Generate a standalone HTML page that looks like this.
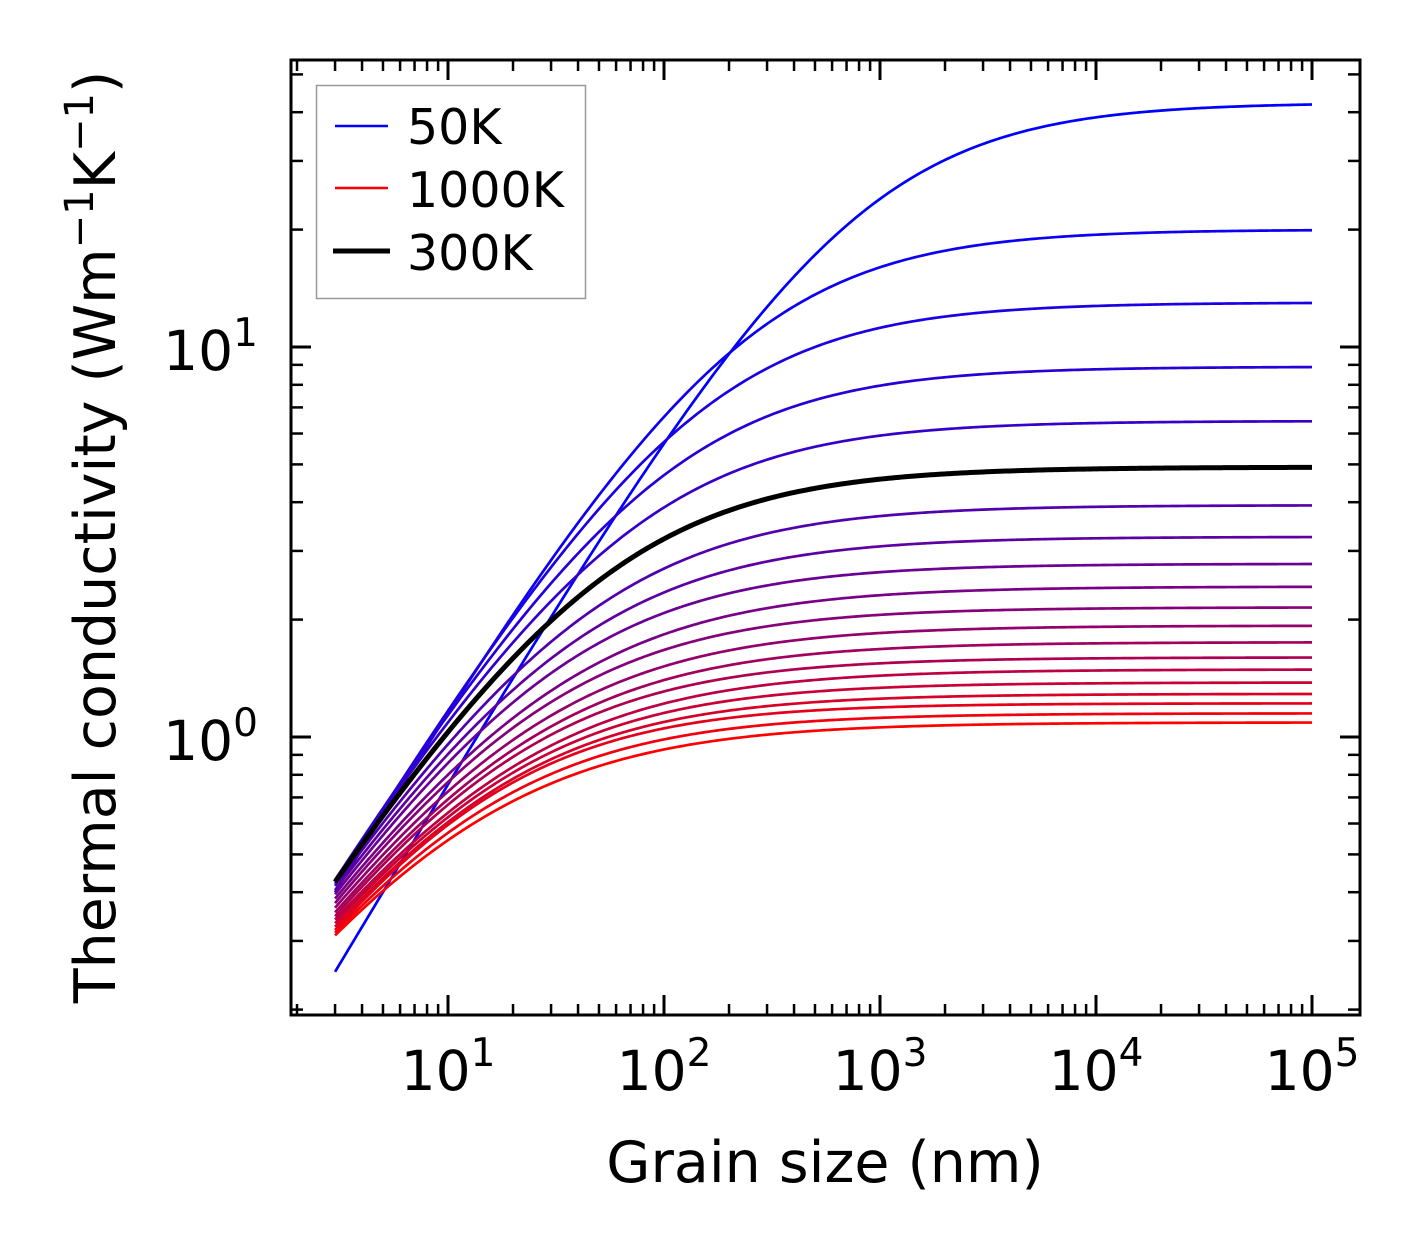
<!DOCTYPE html>
<html><head><meta charset="utf-8">
<style>
html,body{margin:0;padding:0;background:#fff;}
svg{display:block;}
text{font-family:"DejaVu Sans","Liberation Sans",sans-serif;fill:#000;}
</style></head>
<body>
<svg id="chart" width="1421" height="1254" viewBox="0 0 1421 1254" xmlns="http://www.w3.org/2000/svg">
<g id="curves"></g>
<g id="axes"></g>
<text x="825" y="1182" font-size="57" text-anchor="middle">Grain size (nm)</text>
<text transform="translate(115,537) rotate(-90)" font-size="57" text-anchor="middle">Thermal conductivity (Wm<tspan dy="-22" font-size="40">−1</tspan><tspan dy="22">K</tspan><tspan dy="-22" font-size="40">−1</tspan><tspan dy="22">)</tspan></text>
<g>
<rect x="316.5" y="85.5" width="269" height="213" fill="#fff" stroke="#999" stroke-width="1.5"/>
<line x1="335" y1="126" x2="388" y2="126" stroke="#0000ff" stroke-width="2.6"/>
<text x="407" y="144" font-size="49">50K</text>
<line x1="335" y1="188" x2="388" y2="188" stroke="#ff0000" stroke-width="2.6"/>
<text x="407" y="207" font-size="49">1000K</text>
<line x1="333" y1="251" x2="390" y2="251" stroke="#000" stroke-width="5"/>
<text x="407" y="270" font-size="49">300K</text>
</g>
</svg>
<script>
// Data
const temperatures = [50,100,150,200,250,300,350,400,450,500,550,600,650,700,750,800,850,900,950,1000];
// bulk conductivity (value at 1e5 nm)
const kBulk = [42.3,20.0,13.0,8.9,6.46,4.92,3.93,3.26,2.78,2.43,2.15,1.93,1.75,1.60,1.49,1.38,1.29,1.22,1.15,1.09];
// conductivity at 3 nm grain size
const kAt3 = [0.25,0.40,0.42,0.43,0.43,0.425,0.415,0.405,0.395,0.385,0.375,0.365,0.355,0.347,0.34,0.333,0.326,0.32,0.315,0.31];
// conductivity at ~203 nm grain size
const kAt203 = [9.7,9.7,7.76,6.01,4.75,3.82,3.14,2.68,2.34,2.05,1.85,1.67,1.53,1.42,1.32,1.24,1.17,1.12,1.05,0.99];
const xTickLabels = ["1","2","3","4","5"];
const yTickLabels = ["0","1"];

const NS = "http://www.w3.org/2000/svg";
const X0 = 291, X1 = 1360, Y0 = 60, Y1 = 1015;
function xs(L){ return 448 + 216*(Math.log10(L)-1); }
function ys(v){ return 737 - 390*Math.log10(v); }

const curves = document.getElementById('curves');
const order = temperatures.map((t,i)=>i).filter(i=>temperatures[i]!==300).concat(temperatures.map((t,i)=>i).filter(i=>temperatures[i]===300));
order.forEach(i=>{
  const kb=kBulk[i], a=Math.log(kb/kAt3[i]-1), b=Math.log(kb/kAt203[i]-1);
  const p=(a-b)/Math.log(203/3);
  const L0=3*Math.exp(a/p);
  let d="";
  for(let s=0;s<=300;s++){
    const L=Math.pow(10, Math.log10(3)+s/300*(5-Math.log10(3)));
    const k=kb/(1+Math.pow(L0/L,p));
    d+=(s?"L":"M")+xs(L).toFixed(2)+","+ys(k).toFixed(2);
  }
  const path=document.createElementNS(NS,'path');
  path.setAttribute('d',d);
  const f=i/(temperatures.length-1);
  const is300=temperatures[i]===300;
  path.setAttribute('stroke', is300?'#000':`rgb(${Math.round(255*f)},0,${Math.round(255*(1-f))})`);
  path.setAttribute('stroke-width', is300?5:2.7);
  path.setAttribute('fill','none');
  
  
  curves.appendChild(path);
});

const axes=document.getElementById('axes');
function line(x1,y1,x2,y2,w,name){
  const l=document.createElementNS(NS,'line');
  l.setAttribute('x1',x1);l.setAttribute('y1',y1);l.setAttribute('x2',x2);l.setAttribute('y2',y2);
  l.setAttribute('stroke','#000');l.setAttribute('stroke-width',w);
  
  
  axes.appendChild(l);
}
for(let e=0;e<=5;e++){
  for(let m=1;m<10;m++){
    const v=m*Math.pow(10,e), x=xs(v);
    if(x<X0||x>X1) continue;
    const len=m===1?20:11, w=m===1?3:2.5;
    line(x,Y1,x,Y1-len,w,'x-tick');
    line(x,Y0,x,Y0+len,w,'x-tick-top');
  }
}
xTickLabels.forEach(lbl=>{
  const x=xs(Math.pow(10,+lbl));
  const t=document.createElementNS(NS,'text');
  t.setAttribute('x',x);t.setAttribute('y',1090);t.setAttribute('font-size',55);t.setAttribute('text-anchor','middle');
  t.innerHTML='10<tspan dy="-24" font-size="39">'+lbl+'</tspan>';
  
  
  axes.appendChild(t);
});
for(let e=-1;e<=1;e++){
  for(let m=1;m<10;m++){
    const v=m*Math.pow(10,e), y=ys(v);
    if(y<Y0||y>Y1) continue;
    const len=m===1?20:12, w=m===1?3:2.5;
    line(X0,y,X0+len,y,w,'y-tick');
    line(X1,y,X1-len,y,w,'y-tick-right');
  }
}
yTickLabels.forEach(lbl=>{
  const y=ys(Math.pow(10,+lbl));
  const t=document.createElementNS(NS,'text');
  t.setAttribute('x',258);t.setAttribute('y',y+23);t.setAttribute('font-size',55);t.setAttribute('text-anchor','end');
  t.innerHTML='10<tspan dy="-24" font-size="39">'+lbl+'</tspan>';
  
  
  axes.appendChild(t);
});
const frame=document.createElementNS(NS,'rect');
frame.setAttribute('x',X0);frame.setAttribute('y',Y0);frame.setAttribute('width',X1-X0);frame.setAttribute('height',Y1-Y0);
frame.setAttribute('fill','none');frame.setAttribute('stroke','#000');frame.setAttribute('stroke-width',3);


axes.appendChild(frame);
</script>
</body></html>
